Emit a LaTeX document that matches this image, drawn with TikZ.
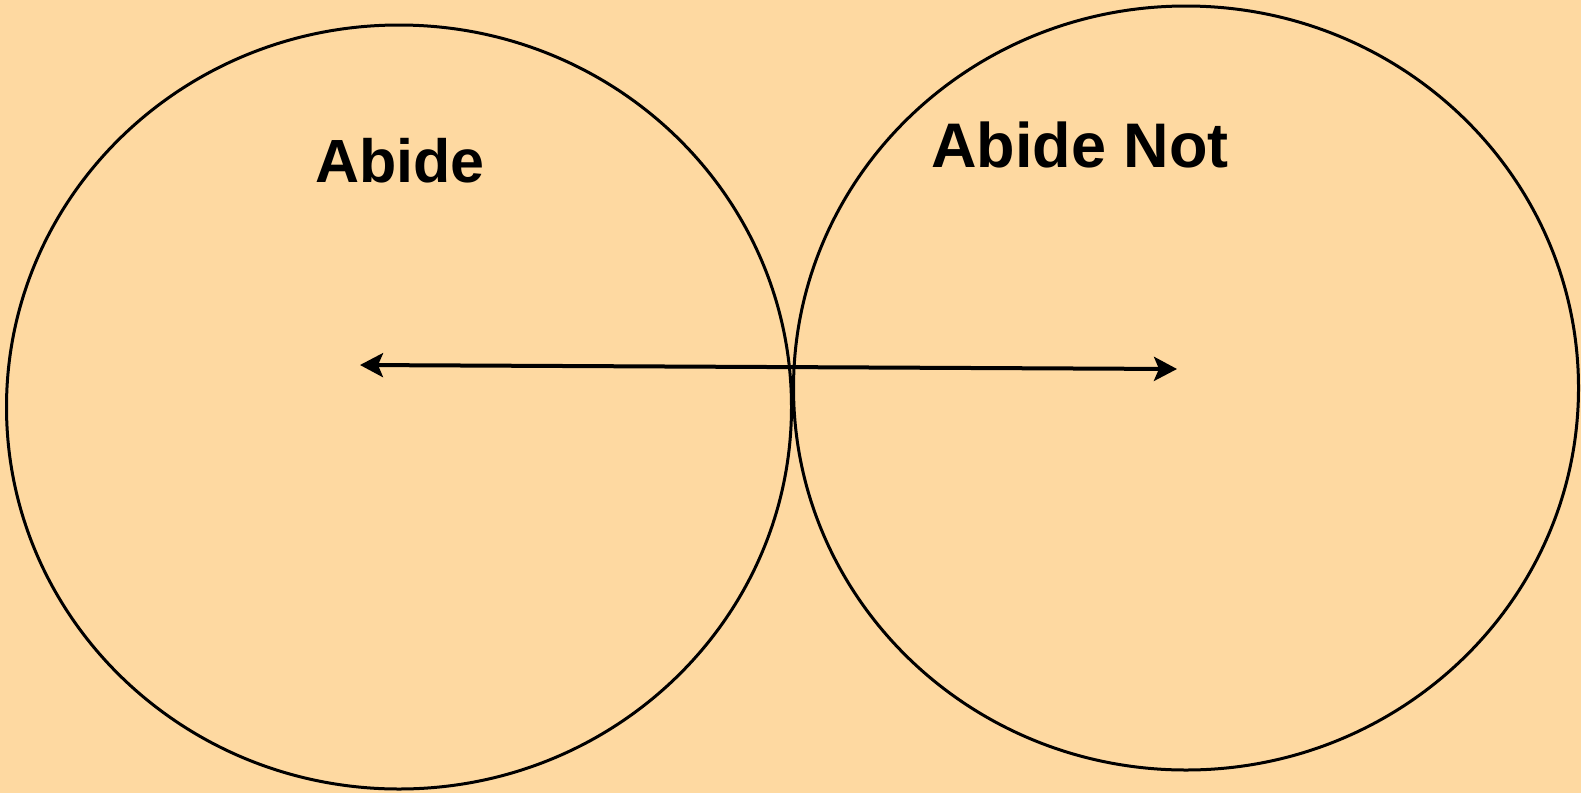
\documentclass[tikz,border=0pt]{standalone}
\usepackage{fontspec}
\setmainfont{Liberation Sans}
\usepackage{xcolor}
\usetikzlibrary{shapes.geometric, arrows.meta, positioning}
\definecolor{peach}{RGB}{254,217,161}
\tikzset{
  zone/.style={ellipse, draw, line width=3pt, inner sep=0pt,
               minimum width=785pt, minimum height=764pt},
  zonelabel/.style={anchor=base, inner sep=0pt,
                    font=\bfseries\fontsize{61}{72}\selectfont},
  arrow/.style={{Stealth[length=23pt,width=24pt,inset=5pt]}-{Stealth[length=23pt,width=24pt,inset=5pt]},
                line width=4pt},
}

\begin{document}
\begin{tikzpicture}[x=1pt, y=-1pt]
  \fill[peach] (0,0) rectangle (1581,793);
  \useasboundingbox (0,0) rectangle (1581,793);

  \node[zone] (abide) at (399,407) {};
  \node[zone] (abidenot) at (1186,388) {};
  \node[zonelabel] (labA) at (400,182) {Abide};
  \node[zonelabel, font=\bfseries\fontsize{63}{75}\selectfont] (labB) at (1080,167) {Abide Not};

  \coordinate (lend) at (360,365);
  \coordinate (rend) at (1177,369);
  \draw[arrow] (lend) -- (rend);
\end{tikzpicture}
\end{document}
